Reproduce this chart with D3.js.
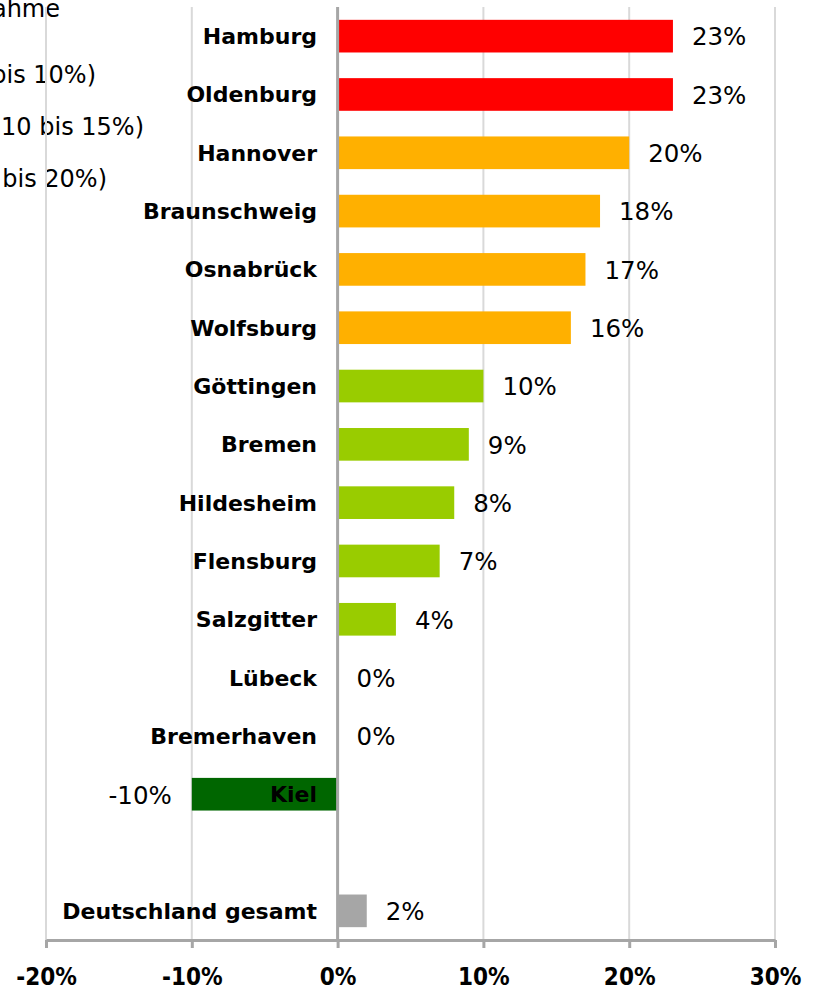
<!DOCTYPE html>
<html>
<head>
<meta charset="utf-8">
<script src="https://cdn.jsdelivr.net/npm/d3@7"></script>
<style>
    body { margin: 0; background: #fff; }
    svg { display: block; }
</style>
</head>
<body>
<div id="chart"></div>
<script>
// categories, top to bottom ("" is the empty gap row)
const cities = ["Hamburg", "Oldenburg", "Hannover", "Braunschweig", "Osnabrück", "Wolfsburg",
    "Göttingen", "Bremen", "Hildesheim", "Flensburg", "Salzgitter", "Lübeck", "Bremerhaven",
    "Kiel", "", "Deutschland gesamt"];
// change in percent
const values = [23, 23, 20, 18, 17, 16, 10, 9, 8, 7, 4, 0, 0, -10, null, 2];
const barColors = ["#FF0000", "#FF0000", "#FFB000", "#FFB000", "#FFB000", "#FFB000",
    "#99CC00", "#99CC00", "#99CC00", "#99CC00", "#99CC00", "#99CC00", "#99CC00",
    "#006600", null, "#A6A6A6"];
const xTicks = [-0.2, -0.1, 0, 0.1, 0.2, 0.3];
// legend, cut off at the left edge
const legendLines = ["Zunahme", "(bis 10%)", "(10 bis 15%)", "(15 bis 20%)"];
const legendEnds = [60, 96, 144, 107];
const legendBase = [17, 83, 135, 187];

const width = 822, height = 988;
const plotTop = 7, plotBottom = 940;

const rows = cities.map((c, i) => ({name: c, value: values[i], color: barColors[i]}));

const svg = d3.select("#chart").append("svg")
    .attr("width", width)
    .attr("height", height);

const x = d3.scaleLinear().domain([-0.2, 0.3]).range([46, 775]);
const y = d3.scaleBand().domain(d3.range(cities.length)).range([plotTop, plotBottom])
    .paddingInner(0.44).paddingOuter(0.22);

// legend text
svg.append("g").selectAll("text")
    .data(legendLines)
    .enter().append("text")
    .attr("x", (d, i) => legendEnds[i])
    .attr("y", (d, i) => legendBase[i])
    .attr("text-anchor", "end")
    .attr("font-family", "DejaVu Sans")
    .attr("font-size", 24)
    .attr("fill", "#000")
    .text(d => d);

// gridlines
svg.append("g").selectAll("line")
    .data(xTicks.filter(t => t !== 0))
    .enter().append("line")
    .attr("x1", d => x(d)).attr("x2", d => x(d))
    .attr("y1", plotTop).attr("y2", plotBottom)
    .attr("stroke", "#D9D9D9")
    .attr("stroke-width", 2);

// bars
const data = rows.map((r, i) => Object.assign({i: i}, r)).filter(r => r.value !== null);
svg.append("g").selectAll("rect")
    .data(data)
    .enter().append("rect")
    .attr("x", d => x(Math.min(0, d.value / 100)))
    .attr("width", d => Math.abs(x(d.value / 100) - x(0)))
    .attr("y", d => y(d.i))
    .attr("height", y.bandwidth())
    .attr("fill", d => d.color);

// zero line
svg.append("line")
    .attr("x1", x(0)).attr("x2", x(0))
    .attr("y1", plotTop).attr("y2", plotBottom)
    .attr("stroke", "#A6A6A6")
    .attr("stroke-width", 3);

// category labels
svg.append("g").selectAll("text")
    .data(data)
    .enter().append("text")
    .attr("x", 317)
    .attr("y", d => y(d.i) + y.bandwidth() / 2)
    .attr("dy", "0.36em")
    .attr("text-anchor", "end")
    .attr("font-family", "DejaVu Sans")
    .attr("font-weight", "bold")
    .attr("font-size", 22)
    .attr("fill", "#000")
    .text(d => d.name);

// value labels
svg.append("g").selectAll("text")
    .data(data)
    .enter().append("text")
    .attr("x", d => d.value < 0 ? x(d.value / 100) - 20 : x(d.value / 100) + 19)
    .attr("y", d => y(d.i) + y.bandwidth() / 2)
    .attr("dy", "0.38em")
    .attr("text-anchor", d => d.value < 0 ? "end" : "start")
    .attr("font-family", "DejaVu Sans")
    .attr("font-size", 24.5)
    .attr("fill", "#000")
    .text(d => d.value + "%");

// x axis
const axis = svg.append("g")
    .attr("transform", "translate(0," + plotBottom + ")")
    .call(d3.axisBottom(x)
        .tickValues(xTicks)
        .tickSize(8)
        .tickSizeOuter(0)
        .tickPadding(20)
        .tickFormat(d => Math.round(d * 100) + "%"));

axis.select(".domain")
    .attr("stroke", "#A6A6A6")
    .attr("stroke-width", 3);
axis.selectAll(".tick line")
    .attr("stroke", "#A6A6A6")
    .attr("stroke-width", 3);
axis.selectAll(".tick text")
    .attr("font-family", "DejaVu Sans Condensed")
    .attr("font-weight", "bold")
    .attr("font-size", 24)
    .attr("fill", "#000");
</script>
</body>
</html>
